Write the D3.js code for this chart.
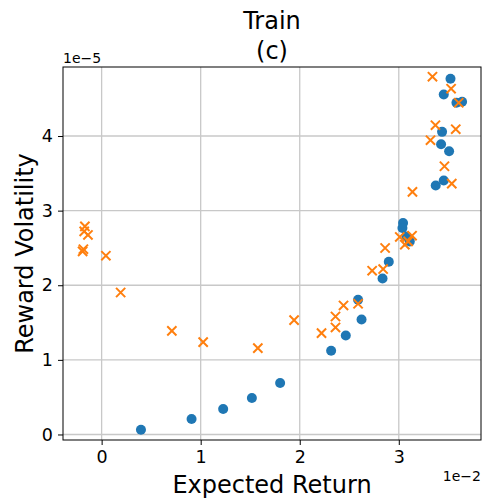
<!DOCTYPE html>
<html>
<head>
<meta charset="utf-8">
<script src="https://cdn.jsdelivr.net/npm/d3@7"></script>
<style>
  html, body { margin: 0; padding: 0; background: #fff; }
  svg { display: block; font-family: "DejaVu Sans", sans-serif; }
</style>
</head>
<body>
<svg id="chart" width="483" height="499"></svg>
<script>
// Values: x in units of 1e-2, y in units of 1e-5
const blueX = [0.397, 0.908, 1.227, 1.517, 1.802, 2.317, 2.465, 2.589, 2.624, 2.836, 2.899, 3.043, 3.037, 3.078, 3.111, 3.373, 3.454, 3.508, 3.427, 3.437, 3.582, 3.639, 3.454, 3.522];
const blueY = [0.064, 0.208, 0.342, 0.490, 0.691, 1.121, 1.326, 1.805, 1.541, 2.091, 2.315, 2.835, 2.768, 2.655, 2.588, 3.336, 3.403, 3.796, 3.890, 4.056, 4.446, 4.459, 4.557, 4.768];
const orangeX = [-0.169, -0.176, -0.138, -0.192, -0.184, 0.043, 0.192, 0.709, 1.025, 1.577, 1.943, 2.220, 2.361, 2.361, 2.442, 2.589, 2.731, 2.842, 2.862, 3.010, 3.061, 3.134, 3.094, 3.138, 3.535, 3.461, 3.320, 3.370, 3.575, 3.605, 3.528, 3.340];
const orangeY = [2.789, 2.722, 2.674, 2.454, 2.483, 2.396, 1.903, 1.389, 1.238, 1.157, 1.533, 1.358, 1.434, 1.581, 1.729, 1.752, 2.195, 2.217, 2.499, 2.647, 2.544, 2.664, 2.588, 3.251, 3.362, 3.595, 3.944, 4.145, 4.091, 4.446, 4.634, 4.795];
const xTicks = [0, 1, 2, 3];
const yTicks = [0, 1, 2, 3, 4];
const xScaleLabel = "1e\u22122";
const yScaleLabel = "1e\u22125";
const titleLines = ["Train", "(c)"];
const xLabel = "Expected Return";
const yLabel = "Reward Volatility";

const blue = "#1f77b4", orange = "#ff7f0e";
const L = 63, R = 481, T = 67, B = 440;

const svg = d3.select("#chart");
const x = d3.scaleLinear().domain([-0.39, 3.83]).range([L, R]);
const y = d3.scaleLinear().domain([-0.074, 4.925]).range([B, T]);

// grid
const g = svg.append("g");
g.selectAll(".gx").data(xTicks).join("line")
  .attr("x1", d => x(d)).attr("x2", d => x(d)).attr("y1", T).attr("y2", B)
  .attr("stroke", "#c8c8c8").attr("stroke-width", 1.3);
g.selectAll(".gy").data(yTicks).join("line")
  .attr("y1", d => y(d)).attr("y2", d => y(d)).attr("x1", L).attr("x2", R)
  .attr("stroke", "#c8c8c8").attr("stroke-width", 1.3);

// points
const blues = blueX.map((v, i) => [v, blueY[i]]);
const oranges = orangeX.map((v, i) => [v, orangeY[i]]);
svg.append("g").selectAll("circle").data(blues).join("circle")
  .attr("cx", d => x(d[0])).attr("cy", d => y(d[1])).attr("r", 5)
  .attr("fill", blue);
const s = 4.6;
svg.append("g").selectAll("path").data(oranges).join("path")
  .attr("d", d => {
    const cx = x(d[0]), cy = y(d[1]);
    return `M${cx - s},${cy - s}L${cx + s},${cy + s}M${cx - s},${cy + s}L${cx + s},${cy - s}`;
  })
  .attr("stroke", orange).attr("stroke-width", 2).attr("fill", "none");

// axes
const xAxis = d3.axisBottom(x).tickValues(xTicks).tickFormat(d3.format("d")).tickSize(5).tickPadding(6);
const yAxis = d3.axisLeft(y).tickValues(yTicks).tickFormat(d3.format("d")).tickSize(5).tickPadding(5);
const xa = svg.append("g").attr("transform", `translate(0,${B})`).call(xAxis);
const ya = svg.append("g").attr("transform", `translate(${L},0)`).call(yAxis);
[xa, ya].forEach(a => {
  a.select(".domain").remove();
  a.selectAll("text").attr("font-size", 17.5).attr("fill", "#000").attr("font-family", "DejaVu Sans");
  a.selectAll("line").attr("stroke", "#000").attr("stroke-width", 1);
});

// frame
svg.append("rect").attr("x", L).attr("y", T).attr("width", R - L).attr("height", B - T)
  .attr("fill", "none").attr("stroke", "#000").attr("stroke-width", 1);

// titles and labels
const cx = (L + R) / 2;
svg.append("text").attr("x", cx).attr("y", 29).attr("text-anchor", "middle")
  .attr("font-size", 24).text(titleLines[0]);
svg.append("text").attr("x", cx).attr("y", 59).attr("text-anchor", "middle")
  .attr("font-size", 24).text(titleLines[1]);
svg.append("text").attr("x", cx).attr("y", 493).attr("text-anchor", "middle")
  .attr("font-size", 24).text(xLabel);
svg.append("text").attr("transform", `translate(33,${(T + B) / 2}) rotate(-90)`)
  .attr("text-anchor", "middle").attr("font-size", 24).text(yLabel);
svg.append("text").attr("x", L).attr("y", 63).attr("font-size", 14).text(yScaleLabel);
svg.append("text").attr("x", R).attr("y", 481).attr("text-anchor", "end").attr("font-size", 14).text(xScaleLabel);
</script>
</body>
</html>
